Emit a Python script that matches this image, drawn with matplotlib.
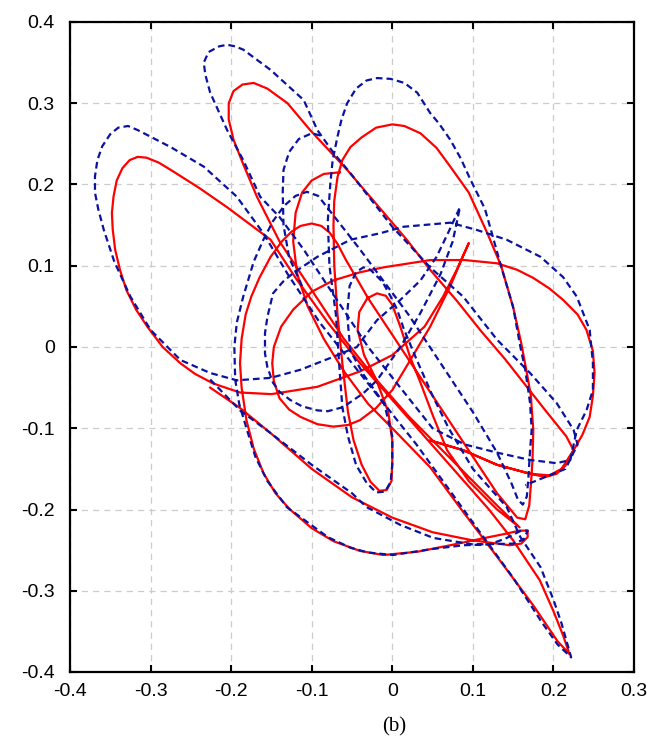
import numpy as np
import matplotlib.pyplot as plt
from matplotlib.ticker import FuncFormatter

# red (solid) trajectory as (x, y) waypoints
red_xy = [
    (-0.226, -0.050), (-0.189, -0.075), (-0.151, -0.106), (-0.100, -0.150), (-0.050, -0.185),
    (0.000, -0.210), (0.050, -0.228), (0.100, -0.238), (0.146, -0.244), (0.160, -0.242),
    (0.168, -0.234), (0.168, -0.226), (0.158, -0.226), (0.140, -0.230), (0.110, -0.236),
    (0.072, -0.244), (0.031, -0.252), (-0.011, -0.256), (-0.040, -0.251), (-0.073, -0.239),
    (-0.100, -0.223), (-0.127, -0.200), (-0.145, -0.180), (-0.160, -0.155), (-0.172, -0.125),
    (-0.181, -0.090), (-0.187, -0.050), (-0.189, -0.020), (-0.187, 0.010), (-0.182, 0.040),
    (-0.175, 0.062), (-0.165, 0.085), (-0.151, 0.111), (-0.137, 0.130), (-0.125, 0.142),
    (-0.114, 0.149), (-0.100, 0.152), (-0.088, 0.149), (-0.078, 0.141), (-0.068, 0.127),
    (-0.058, 0.108), (-0.030, 0.060), (0.010, 0.000), (0.050, -0.060), (0.090, -0.120),
    (0.130, -0.180), (0.155, -0.210), (0.165, -0.212), (0.170, -0.195), (0.172, -0.170),
    (0.174, -0.140), (0.175, -0.102), (0.172, -0.060), (0.167, -0.032), (0.160, 0.005),
    (0.150, 0.049), (0.135, 0.100), (0.118, 0.140), (0.095, 0.190), (0.072, 0.222),
    (0.055, 0.245), (0.035, 0.263), (0.015, 0.272), (0.000, 0.274), (-0.020, 0.270),
    (-0.038, 0.258), (-0.052, 0.246), (-0.062, 0.230), (-0.068, 0.209), (-0.072, 0.180),
    (-0.073, 0.150), (-0.072, 0.100), (-0.068, 0.040), (-0.062, -0.020), (-0.055, -0.080),
    (-0.048, -0.115), (-0.038, -0.145), (-0.027, -0.166), (-0.016, -0.177), (-0.007, -0.176),
    (-0.001, -0.165), (0.000, -0.140), (0.000, -0.115), (-0.005, -0.080), (-0.020, -0.040),
    (-0.035, -0.010), (-0.043, 0.021), (-0.041, 0.043), (-0.031, 0.060), (-0.019, 0.066),
    (-0.008, 0.063), (0.000, 0.052), (0.010, 0.025), (0.022, -0.012), (0.035, -0.044),
    (0.051, -0.086), (0.068, -0.127), (0.095, -0.165), (0.130, -0.200), (0.158, -0.222),
    (0.130, -0.195), (0.100, -0.165), (0.060, -0.125), (0.020, -0.085), (-0.020, -0.040),
    (-0.060, 0.010), (-0.100, 0.070), (-0.140, 0.130), (-0.168, 0.185), (-0.185, 0.225),
    (-0.197, 0.255), (-0.203, 0.280), (-0.203, 0.300), (-0.197, 0.315), (-0.186, 0.323),
    (-0.172, 0.325), (-0.155, 0.318), (-0.130, 0.300), (-0.102, 0.267), (-0.056, 0.218),
    (0.000, 0.153), (0.018, 0.132), (0.047, 0.095), (0.080, 0.057), (0.109, 0.021),
    (0.140, -0.015), (0.167, -0.049), (0.190, -0.078), (0.216, -0.110), (0.225, -0.127),
    (0.215, -0.146), (0.204, -0.156), (0.190, -0.160), (0.171, -0.156), (0.130, -0.145),
    (0.088, -0.127), (0.047, -0.115), (0.088, -0.127), (0.130, -0.145), (0.171, -0.156),
    (0.195, -0.158), (0.210, -0.150), (0.225, -0.127), (0.236, -0.108), (0.245, -0.086),
    (0.249, -0.060), (0.251, -0.032), (0.249, -0.005), (0.241, 0.021), (0.230, 0.040),
    (0.212, 0.058), (0.195, 0.072), (0.175, 0.085), (0.155, 0.095), (0.130, 0.103),
    (0.090, 0.107), (0.047, 0.107), (-0.011, 0.098), (-0.040, 0.092), (-0.073, 0.082),
    (-0.100, 0.068), (-0.123, 0.046), (-0.138, 0.025), (-0.147, 0.000), (-0.149, -0.020),
    (-0.147, -0.042), (-0.140, -0.063), (-0.128, -0.077), (-0.114, -0.086), (-0.093, -0.095),
    (-0.073, -0.098), (-0.055, -0.096), (-0.040, -0.090), (-0.020, -0.075), (0.000, -0.053),
    (0.020, -0.020), (0.047, 0.025), (0.072, 0.075), (0.087, 0.110), (0.095, 0.128),
    (0.080, 0.095), (0.063, 0.062), (0.040, 0.025), (0.000, -0.010), (-0.040, -0.030),
    (-0.093, -0.049), (-0.150, -0.058), (-0.189, -0.056), (-0.222, -0.045), (-0.245, -0.033),
    (-0.263, -0.020), (-0.285, 0.000), (-0.304, 0.025), (-0.318, 0.046), (-0.330, 0.070),
    (-0.338, 0.095), (-0.344, 0.120), (-0.347, 0.145), (-0.348, 0.165), (-0.346, 0.185),
    (-0.342, 0.205), (-0.335, 0.220), (-0.326, 0.230), (-0.316, 0.234), (-0.305, 0.233),
    (-0.290, 0.227), (-0.275, 0.218), (-0.240, 0.196), (-0.205, 0.172), (-0.151, 0.132),
    (-0.120, 0.085), (-0.080, 0.030), (-0.040, -0.020), (0.000, -0.065), (0.040, -0.110),
    (0.080, -0.155), (0.120, -0.200), (0.150, -0.238), (0.183, -0.287), (0.200, -0.325),
    (0.212, -0.355), (0.220, -0.378), (0.205, -0.362), (0.175, -0.318), (0.130, -0.258),
    (0.088, -0.203), (0.047, -0.148), (0.000, -0.100), (-0.030, -0.070), (-0.060, -0.030),
    (-0.085, 0.010), (-0.105, 0.050), (-0.118, 0.090), (-0.123, 0.130), (-0.120, 0.165),
    (-0.112, 0.190), (-0.100, 0.205), (-0.085, 0.213), (-0.065, 0.215),
]

# blue (dashed) trajectory
blue_xy = [
    (-0.226, -0.040), (-0.189, -0.078), (-0.151, -0.106), (-0.100, -0.145), (-0.050, -0.180),
    (-0.032, -0.197), (0.010, -0.219), (0.051, -0.235), (0.100, -0.243), (0.150, -0.242),
    (0.163, -0.237), (0.168, -0.226), (0.160, -0.226), (0.140, -0.236), (0.120, -0.243),
    (0.088, -0.244), (0.047, -0.249), (0.001, -0.256), (-0.030, -0.253), (-0.052, -0.247),
    (-0.080, -0.234), (-0.102, -0.218), (-0.131, -0.197), (-0.155, -0.165), (-0.170, -0.135),
    (-0.181, -0.100), (-0.190, -0.070), (-0.195, -0.040), (-0.196, 0.000), (-0.193, 0.030),
    (-0.185, 0.062), (-0.172, 0.105), (-0.160, 0.132), (-0.148, 0.155), (-0.134, 0.174),
    (-0.120, 0.186), (-0.106, 0.191), (-0.092, 0.186), (-0.081, 0.172), (-0.062, 0.148),
    (-0.040, 0.120), (-0.010, 0.080), (0.020, 0.040), (0.060, -0.020), (0.100, -0.080),
    (0.130, -0.130), (0.148, -0.168), (0.156, -0.188), (0.162, -0.194), (0.167, -0.184),
    (0.169, -0.160), (0.171, -0.127), (0.173, -0.102), (0.171, -0.069), (0.165, -0.028),
    (0.159, 0.000), (0.150, 0.049), (0.134, 0.103), (0.125, 0.135), (0.115, 0.170),
    (0.097, 0.206), (0.085, 0.232), (0.072, 0.255), (0.058, 0.275), (0.047, 0.288),
    (0.031, 0.313), (0.015, 0.325), (-0.002, 0.330), (-0.019, 0.331), (-0.032, 0.328),
    (-0.045, 0.318), (-0.056, 0.300), (-0.063, 0.280), (-0.068, 0.259), (-0.074, 0.230),
    (-0.077, 0.200), (-0.080, 0.156), (-0.078, 0.100), (-0.070, 0.040), (-0.066, -0.020),
    (-0.062, -0.074), (-0.055, -0.110), (-0.045, -0.145), (-0.032, -0.167), (-0.020, -0.179),
    (-0.009, -0.178), (-0.002, -0.166), (0.000, -0.145), (0.000, -0.110), (-0.010, -0.070),
    (-0.035, -0.035), (-0.052, -0.005), (-0.056, 0.040), (-0.053, 0.075), (-0.045, 0.092),
    (-0.036, 0.098), (-0.027, 0.095), (-0.012, 0.080), (-0.002, 0.062), (0.006, 0.046),
    (0.014, 0.023), (0.030, -0.015), (0.050, -0.060), (0.070, -0.100), (0.100, -0.150),
    (0.142, -0.197), (0.159, -0.234), (0.184, -0.271), (0.200, -0.311), (0.210, -0.340),
    (0.216, -0.361), (0.222, -0.382), (0.205, -0.366), (0.185, -0.338), (0.150, -0.284),
    (0.100, -0.216), (0.068, -0.172), (0.030, -0.120), (-0.010, -0.070), (-0.050, -0.020),
    (-0.090, 0.030), (-0.130, 0.090), (-0.160, 0.140), (-0.193, 0.185), (-0.234, 0.222),
    (-0.275, 0.246), (-0.316, 0.267), (-0.328, 0.272), (-0.340, 0.270), (-0.350, 0.262),
    (-0.360, 0.247), (-0.366, 0.230), (-0.369, 0.210), (-0.369, 0.190), (-0.365, 0.170),
    (-0.358, 0.144), (-0.345, 0.105), (-0.325, 0.062), (-0.300, 0.021), (-0.263, -0.016),
    (-0.226, -0.032), (-0.193, -0.041), (-0.151, -0.038), (-0.114, -0.028), (-0.073, -0.012),
    (-0.044, 0.000), (-0.019, 0.033), (0.010, 0.058), (0.035, 0.082), (0.055, 0.111),
    (0.070, 0.142), (0.084, 0.172), (0.075, 0.130), (0.060, 0.090), (0.035, 0.042),
    (0.010, 0.000), (-0.019, -0.041), (-0.036, -0.057), (-0.061, -0.074), (-0.080, -0.079),
    (-0.093, -0.078), (-0.112, -0.073), (-0.127, -0.065), (-0.140, -0.055), (-0.148, -0.044),
    (-0.155, -0.025), (-0.158, -0.008), (-0.158, 0.017), (-0.155, 0.037), (-0.148, 0.066),
    (-0.136, 0.080), (-0.123, 0.091), (-0.093, 0.111), (-0.052, 0.132), (-0.015, 0.140),
    (0.014, 0.148), (0.072, 0.153), (0.105, 0.144), (0.142, 0.132), (0.184, 0.111),
    (0.212, 0.086), (0.229, 0.062), (0.245, 0.021), (0.249, -0.020), (0.249, -0.053),
    (0.241, -0.078), (0.229, -0.102), (0.221, -0.139), (0.204, -0.143), (0.171, -0.139),
    (0.130, -0.130), (0.090, -0.120), (0.050, -0.100), (0.010, -0.050), (-0.030, 0.000),
    (-0.070, 0.060), (-0.110, 0.120), (-0.140, 0.160), (-0.164, 0.185), (-0.185, 0.230),
    (-0.205, 0.267), (-0.226, 0.313), (-0.232, 0.335), (-0.234, 0.350), (-0.228, 0.363),
    (-0.215, 0.370), (-0.205, 0.372), (-0.195, 0.370), (-0.185, 0.366), (-0.151, 0.341),
    (-0.110, 0.304), (-0.093, 0.267), (-0.073, 0.239), (-0.052, 0.214), (0.000, 0.148),
    (0.047, 0.098), (0.088, 0.062), (0.130, 0.009), (0.171, -0.032), (0.204, -0.069),
    (0.225, -0.102), (0.230, -0.120), (0.215, -0.150), (0.190, -0.160), (0.165, -0.170),
]

# short blue arc up the left of the middle (x ~ -0.135)
blue_arc_xy = [
    (-0.112, 0.075), (-0.128, 0.110), (-0.135, 0.150), (-0.136, 0.190), (-0.135, 0.218),
    (-0.128, 0.240), (-0.116, 0.256), (-0.100, 0.263), (-0.088, 0.260),
]

xticks = [-0.4, -0.3, -0.2, -0.1, 0, 0.1, 0.2, 0.3]
yticks = [-0.4, -0.3, -0.2, -0.1, 0, 0.1, 0.2, 0.3, 0.4]

plt.rcParams['font.family'] = ['Liberation Sans', 'DejaVu Sans']

fig = plt.figure(figsize=(6.59, 7.47), dpi=100)
ax = fig.add_axes([70 / 659, 1 - 672 / 747, 564 / 659, 650 / 747])

rx, ry = np.array(red_xy).T
bx, by = np.array(blue_xy).T
ax_, ay_ = np.array(blue_arc_xy).T
ax.plot(rx, ry, color='#ff0000', lw=1.6, zorder=3, solid_joinstyle='round')
ax.plot(bx, by, color='#0a12a0', lw=1.6, dashes=(3, 1.8), zorder=4)
ax.plot(ax_, ay_, color='#0a12a0', lw=1.6, dashes=(3, 1.8), zorder=4)

ax.set_xlim(-0.4, 0.3)
ax.set_ylim(-0.4, 0.4)
ax.set_xticks(xticks)
ax.set_yticks(yticks)
fmt = FuncFormatter(lambda v, p: '0' if abs(v) < 1e-9 else '%.1f' % v)
ax.xaxis.set_major_formatter(fmt)
ax.yaxis.set_major_formatter(fmt)
ax.tick_params(direction='in', length=5, width=1.5, top=True, right=True, labelsize=14)
ax.tick_params(axis='x', pad=8)
ax.tick_params(axis='y', pad=11)
ax.grid(True, color='#cccccc', linestyle=(0, (5, 4)), linewidth=0.9)
for s in ax.spines.values():
    s.set_linewidth(1.6)

fig.text(394 / 659, 1 - 727 / 747, '(b)', ha='center', va='center',
         fontsize=15, family='Liberation Serif')

fig.savefig('out.png', dpi=100)
